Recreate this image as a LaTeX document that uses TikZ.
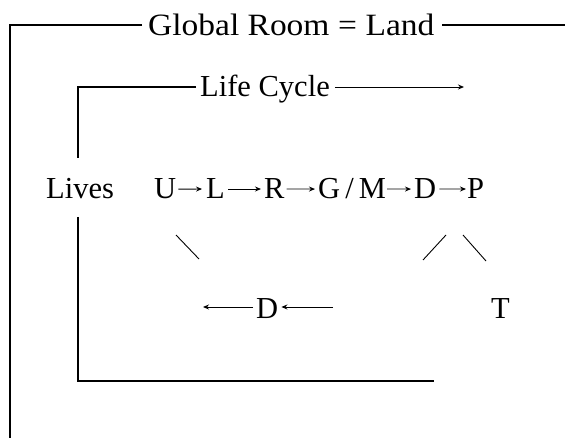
\documentclass[tikz,border=0pt]{standalone}
\usepackage{fontspec}
\setmainfont{Liberation Serif}
\newfontfamily\titlefont[FakeStretch=1.08]{Liberation Serif}
\usetikzlibrary{arrows.meta}
\begin{document}
\begin{tikzpicture}[x=1pt,y=-1pt,
  txt/.style={inner sep=0pt,anchor=base west,font=\fontsize{30.5}{36}\selectfont},
  frame/.style={line width=1.1pt},
  conn/.style={line width=0.9pt,-{Stealth[length=6pt,width=5pt]}},
  slash/.style={line width=0.9pt}]
\useasboundingbox (0,0) rectangle (565,438);
% texts
\node[txt,font=\titlefont\fontsize{31}{36}\selectfont] (title) at (148,36) {Global Room\;=\;Land};
\node[txt] (lc) at (200,97) {Life Cycle};
\node[txt] (lives) at (46,199) {Lives};
\node[txt] (u) at (154,199) {U};
\node[txt] (l) at (206,199) {L};
\node[txt] (r) at (264,199) {R};
\node[txt] (gm) at (318,199) {G\,/\,M};
\node[txt] (d1) at (414,199) {D};
\node[txt] (p) at (467,199) {P};
\node[txt] (d2) at (256,319) {D};
\node[txt] (t) at (491,319) {T};
% frame coordinates
\coordinate (oR) at (565,25);
\coordinate (oL) at (10,25);
\coordinate (oB) at (10,438);
\coordinate (lcEnd) at (464,87);
\coordinate (iT) at (78,87);
\coordinate (iA) at (78,158);
\coordinate (iB) at (78,217);
\coordinate (iC) at (78,381);
\coordinate (iD) at (434,381);
% outer frame
\draw[frame] (oR) -- ([xshift=7pt]title.east |- oR);
\draw[frame] ([xshift=-6pt]title.west |- oL) -- (oL) -- (oB);
% inner frame
\draw[conn] ([xshift=5pt]lc.east |- lcEnd) -- (lcEnd);
\draw[frame] ([xshift=-4pt]lc.west |- iT) -- (iT) -- (iA);
\draw[frame] (iB) -- (iC) -- (iD);
% chain arrows
\draw[conn] ([xshift=2pt]u.east) -- ([xshift=-4pt]l.west);
\draw[conn] ([xshift=3pt]l.east) -- ([xshift=-3pt]r.west);
\draw[conn] ([xshift=2pt]r.east) -- ([xshift=-3pt]gm.west);
\draw[conn] ([xshift=1pt]gm.east) -- ([xshift=-3pt]d1.west);
\draw[conn] ([xshift=3pt]d1.east) -- ([xshift=-1pt]p.west);
% diagonals
\coordinate (s1a) at (176,235); \coordinate (s1b) at (199,259);
\coordinate (s2a) at (423,260); \coordinate (s2b) at (446,235);
\coordinate (s3a) at (463,235); \coordinate (s3b) at (486,261);
\draw[slash] (s1a) -- (s1b);
\draw[slash] (s2a) -- (s2b);
\draw[slash] (s3a) -- (s3b);
% lower arrows
\coordinate (b1) at (203,307);
\coordinate (b2) at (333,307);
\draw[conn] ([xshift=-3pt]d2.west |- b1) -- (b1);
\draw[conn] (b2) -- ([xshift=3pt]d2.east |- b2);
\end{tikzpicture}
\end{document}
